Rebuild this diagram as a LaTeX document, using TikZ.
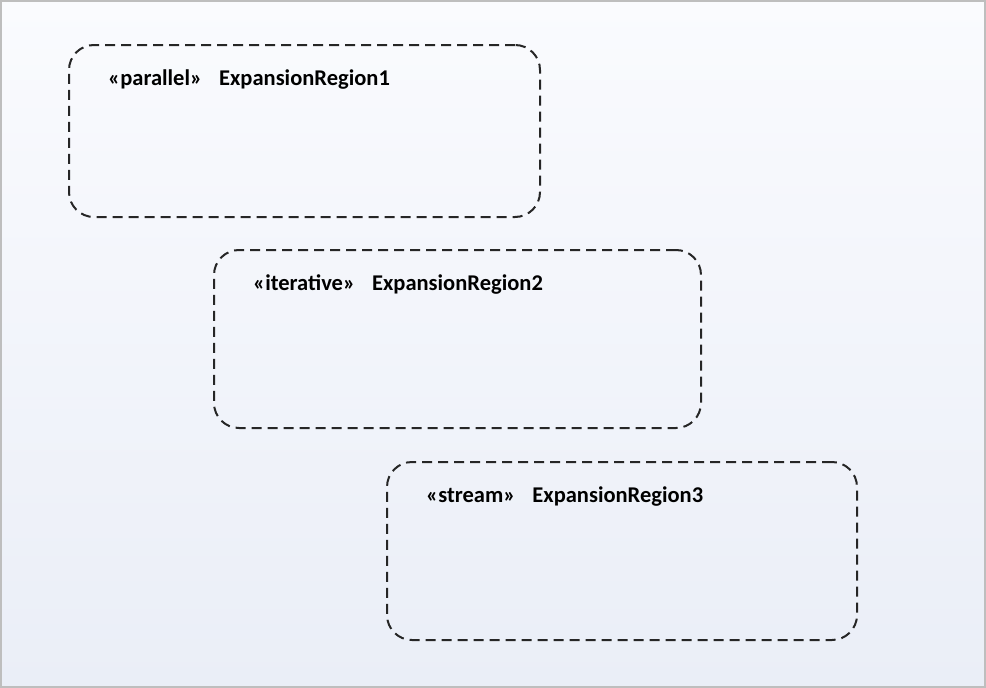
\documentclass[tikz,border=0pt]{standalone}
\usepackage{fontspec}
\setmainfont{Carlito}
\usetikzlibrary{positioning}

\definecolor{bgtop}{HTML}{FAFBFE}
\definecolor{bgbottom}{HTML}{EAEEF7}
\definecolor{framegray}{HTML}{BEBEBE}

\begin{document}
\begin{tikzpicture}[
        x=1pt, y=1pt,
        region/.style={
            rectangle,
            rounded corners=25pt,
            draw=black!85,
            line width=2pt,
            dash pattern=on 10pt off 6pt,
            anchor=north west,
            inner sep=0pt
        },
        title/.style={
            anchor=base west,
            inner sep=0pt,
            font=\bfseries\fontsize{22.5}{26}\selectfont
        }
    ]

    % background and frame
    \shade[top color=bgtop, bottom color=bgbottom] (0,0) rectangle (986,-688);
    \draw[framegray, line width=2pt] (1,-1) rectangle (985,-687);
    \useasboundingbox (0,0) rectangle (986,-688);

    \node[region, minimum width=471pt, minimum height=172pt] (region1)
        at (68,-44) {};
    \node[region, minimum width=487pt, minimum height=178pt] (region2)
        at (213,-249) {};
    \node[region, minimum width=470pt, minimum height=178pt] (region3)
        at (386,-461) {};

    \node[title] (title1) at ([shift={(40,-41)}]region1.north west)
        {«parallel»\hspace{17pt}ExpansionRegion1};
    \node[title] (title2) at ([shift={(40,-41)}]region2.north west)
        {«iterative»\hspace{17pt}ExpansionRegion2};
    \node[title] (title3) at ([shift={(40,-41)}]region3.north west)
        {«stream»\hspace{17pt}ExpansionRegion3};

\end{tikzpicture}
\end{document}
